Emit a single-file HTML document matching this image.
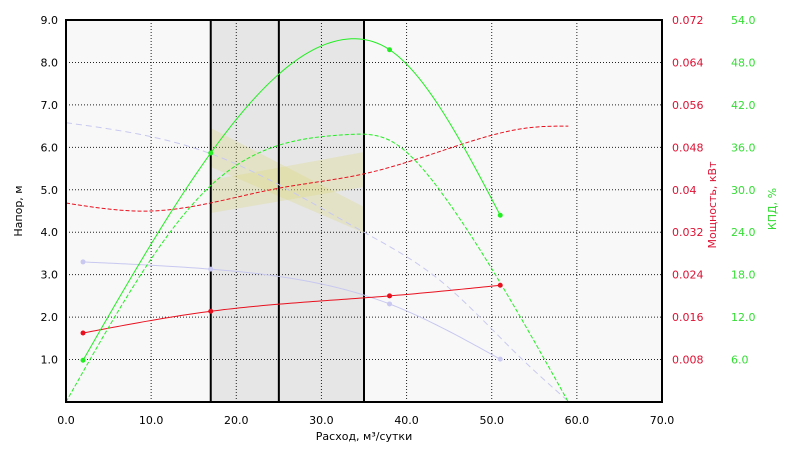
<!DOCTYPE html>
<html><head><meta charset="utf-8"><style>
body{margin:0;background:#fff;}
svg{display:block;font-family:"DejaVu Sans","Liberation Sans",sans-serif;}
</style></head><body>
<svg id="c" width="794" height="450"></svg>
<script>
const headCurveX=[0,17,35,43.9,53.3,58.8];
const headCurveY=[6.58,5.85,4.0,2.87,1.06,0.05];
const headPtsX=[2,17,38,51];
const headPtsY=[3.3,3.13,2.31,1.01];
const headFitX=[2,17,30,38,51];
const headFitY=[3.3,3.13,2.78,2.31,1.01];
const powerPtsX=[2,17,38,51];
const powerPtsY=[0.013,0.0171,0.020,0.022];
const powerFitX=[2,17,38,51];
const powerFitY=[0.013,0.0171,0.020,0.022];
const powerCurveX=[0,10,25,35,45,55,59];
const powerCurveY=[0.0375,0.036,0.0403,0.043,0.0478,0.0518,0.052];
const effPtsX=[2,17,38,51];
const effPtsY=[5.9,35.2,49.8,26.4];
const effFitX=[2,17,33,38,51];
const effFitY=[5.9,35.2,51.3,49.8,26.4];
const effCurveX=[0,17,25,33,38,44.7,59];
const effCurveY=[0,30.6,36.3,37.8,37,28.6,0];
const xTicks=[0,10,20,30,40,50,60,70];
const yTicks=[1,2,3,4,5,6,7,8,9];
const powerTicks=["0.008","0.016","0.024","0.032","0.04","0.048","0.056","0.064","0.072"];
const effTicks=["6.0","12.0","18.0","24.0","30.0","36.0","42.0","48.0","54.0"];
const zones=[17,25,35];

const L=66,R=662,T=20,B=402;
const sx=v=>L+v*(R-L)/70;
const sy=v=>B-v*(B-T)/9;
const sp=v=>sy(v/0.008);
const se=v=>sy(v/6);
const svg=document.getElementById('c');
const NS='http://www.w3.org/2000/svg';
function mk(t,a,p){const e=document.createElementNS(NS,t);for(const k in a)e.setAttribute(k,a[k]);(p||svg).appendChild(e);return e;}
function smooth(xs,ys,fy){
 const n=xs.length,h=[],al=[],l=[1],mu=[0],z=[0],c=new Array(n).fill(0),b=[],d=[];
 for(let i=0;i<n-1;i++)h.push(xs[i+1]-xs[i]);
 for(let i=1;i<n-1;i++)al[i]=3/h[i]*(ys[i+1]-ys[i])-3/h[i-1]*(ys[i]-ys[i-1]);
 for(let i=1;i<n-1;i++){l[i]=2*(xs[i+1]-xs[i-1])-h[i-1]*mu[i-1];mu[i]=h[i]/l[i];z[i]=(al[i]-h[i-1]*z[i-1])/l[i];}
 for(let j=n-2;j>=0;j--){c[j]=(j>0?z[j]:0)-mu[j]*c[j+1];b[j]=(ys[j+1]-ys[j])/h[j]-h[j]*(c[j+1]+2*c[j])/3;d[j]=(c[j+1]-c[j])/(3*h[j]);}
 let p='';
 for(let j=0;j<n-1;j++){const steps=Math.max(2,Math.ceil(h[j]*2));
  for(let k=(j?1:0);k<=steps;k++){const t=h[j]*k/steps;const y=ys[j]+b[j]*t+c[j]*t*t+d[j]*t*t*t;
   p+=(p?' L':'M')+sx(xs[j]+t).toFixed(2)+','+fy(y).toFixed(2);}}
 return p;}

let e=mk('rect',{x:L,y:T,width:R-L,height:B-T,fill:'#f8f8f8'});

e=mk('rect',{x:sx(zones[0]),y:T,width:sx(zones[2])-sx(zones[0]),height:B-T,fill:'#e6e6e6'});

xTicks.forEach(v=>{if(v>0&&v<70){const g=mk('line',{x1:sx(v),x2:sx(v),y1:T,y2:B,stroke:'#222','stroke-dasharray':'1,2','stroke-width':1});
}});
yTicks.forEach(v=>{if(v<9){const g=mk('line',{x1:L,x2:R,y1:sy(v),y2:sy(v),stroke:'#222','stroke-dasharray':'1,2','stroke-width':1});
}});
e=mk('polygon',{points:[[sx(17),128],[sx(35),207],[sx(35),233],[sx(17),167]].join(' '),fill:'rgba(220,215,120,0.28)'});

e=mk('polygon',{points:[[sx(17),180],[sx(35),152],[sx(35),187],[sx(17),213]].join(' '),fill:'rgba(220,215,120,0.28)'});

zones.forEach(v=>{const z=mk('line',{x1:sx(v),x2:sx(v),y1:T,y2:B,stroke:'#000','stroke-width':2});
});
const BL='#c8c8f0',RD='#e8101e',GR='#22ee22';
e=mk('path',{d:smooth(headCurveX,headCurveY,sy),fill:'none',stroke:BL,'stroke-dasharray':'6,4','stroke-width':1});

e=mk('path',{d:smooth(headFitX,headFitY,sy),fill:'none',stroke:BL,'stroke-width':1});

e=mk('path',{d:smooth(powerCurveX,powerCurveY,sp),fill:'none',stroke:RD,'stroke-dasharray':'4,2','stroke-width':1});

e=mk('path',{d:smooth(powerFitX,powerFitY,sp),fill:'none',stroke:RD,'stroke-width':1});

e=mk('path',{d:smooth(effCurveX,effCurveY,se),fill:'none',stroke:GR,'stroke-dasharray':'4,2','stroke-width':1});

e=mk('path',{d:smooth(effFitX,effFitY,se),fill:'none',stroke:GR,'stroke-width':1});

headPtsX.forEach((x,i)=>{const c=mk('circle',{cx:sx(x),cy:sy(headPtsY[i]),r:2.5,fill:BL});
});
powerPtsX.forEach((x,i)=>{const c=mk('circle',{cx:sx(x),cy:sp(powerPtsY[i]),r:2.5,fill:RD});
});
effPtsX.forEach((x,i)=>{const c=mk('circle',{cx:sx(x),cy:se(effPtsY[i]),r:2.5,fill:GR});
});
e=mk('rect',{x:L,y:T,width:R-L,height:B-T,fill:'none',stroke:'#000','stroke-width':2});

xTicks.forEach(v=>{const t=mk('text',{x:sx(v),y:424,'font-size':11,'text-anchor':'middle',fill:'#000'});t.textContent=v.toFixed(1);
});
yTicks.forEach(v=>{const t=mk('text',{x:58,y:sy(v)+4,'font-size':11,'text-anchor':'end',fill:'#000'});t.textContent=v.toFixed(1);
});
powerTicks.forEach((s,i)=>{const t=mk('text',{x:672,y:sy(i+1)+4,'font-size':11,fill:'#dd1133'});t.textContent=s;
});
effTicks.forEach((s,i)=>{const t=mk('text',{x:731,y:sy(i+1)+4,'font-size':11,fill:'#33dd33'});t.textContent=s;
});
e=mk('text',{x:sx(35),y:440,'font-size':11,'text-anchor':'middle',fill:'#000'});e.textContent='Расход, м³/сутки';

e=mk('text',{x:22,y:211,'font-size':11,'text-anchor':'middle',fill:'#000',transform:'rotate(-90 22 211)'});e.textContent='Напор, м';

e=mk('text',{x:716,y:205,'font-size':11,'text-anchor':'middle',fill:'#dd1133',transform:'rotate(-90 716 205)'});e.textContent='Мощность, кВт';

e=mk('text',{x:776,y:209,'font-size':11,'text-anchor':'middle',fill:'#33dd33',transform:'rotate(-90 776 209)'});e.textContent='КПД, %';

</script>
</body></html>
